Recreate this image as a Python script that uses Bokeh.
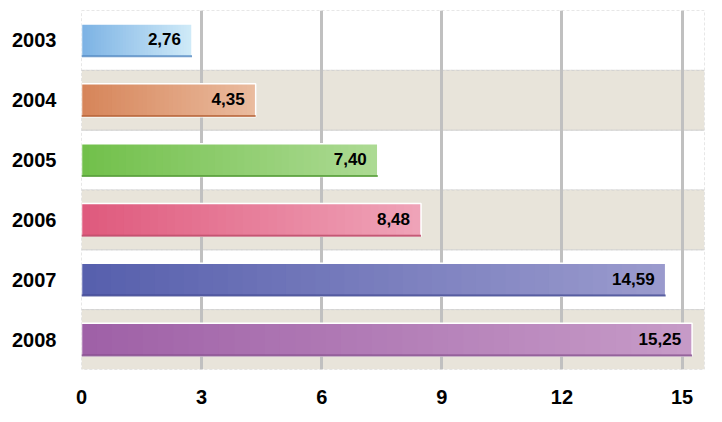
from bokeh.plotting import figure
from bokeh.models import FactorRange, FixedTicker, ColumnDataSource
from bokeh.transform import dodge
from bokeh.embed import file_html
from bokeh.resources import INLINE

# ---- data ----
years = ["2003", "2004", "2005", "2006", "2007", "2008"]
values = [2.76, 4.35, 7.40, 8.48, 14.59, 15.25]
value_labels = ["2,76", "4,35", "7,40", "8,48", "14,59", "15,25"]
x_ticks = [0, 3, 6, 9, 12, 15]

# ---- styles ----
left_colors = ["#7db3e4", "#d6855a", "#72c04b", "#df5a7d", "#5760ad", "#9f61a7"]
right_colors = ["#cfeaf8", "#eabb9e", "#acda93", "#efa3b8", "#9a9acd", "#c69ac7"]
edge_colors = ["#4f86c0", "#b8653a", "#4f9a30", "#b83c5c", "#3c4490", "#7d4386"]
band_color = "#e8e4da"

X_END = 15.56
N = 40


def hex2rgb(h):
    h = h.lstrip("#")
    return tuple(int(h[i:i + 2], 16) for i in (0, 2, 4))


def mix(c1, c2, t):
    a, b = hex2rgb(c1), hex2rgb(c2)
    return "#%02x%02x%02x" % tuple(int(round(a[k] + (b[k] - a[k]) * t)) for k in range(3))


p = figure(
    width=706, height=406,
    y_range=FactorRange(factors=years[::-1], range_padding=0),
    x_range=(0, X_END),
    output_backend="svg", toolbar_location=None,
    min_border_left=81, min_border_right=2, min_border_top=10, min_border_bottom=31,
)
p.background_fill_color = "white"
p.border_fill_color = "white"
p.outline_line_color = None

# alternating row bands
band_fill = [None if i % 2 == 0 else band_color for i in range(len(years))]
band_src = ColumnDataSource(dict(y=years, fill=band_fill))
p.hbar(y="y", left=0, right=X_END, height=1.0, source=band_src,
       fill_color="fill", line_color="#cfcfcf", line_width=1,
       line_dash="3 2", level="image")

# gradient bars built from overlapping slices of each value
sl_y, sl_l, sl_r, sl_c = [], [], [], []
for yr, v, c1, c2 in zip(years, values, left_colors, right_colors):
    for i in range(N):
        sl_y.append(yr)
        sl_l.append(v * i / N)
        sl_r.append(min(v, v * (i + 1.7) / N))
        sl_c.append(mix(c1, c2, i / (N - 1)))
p.hbar(y=sl_y, left=sl_l, right=sl_r, height=0.55, fill_color=sl_c,
       line_color=None)

src = ColumnDataSource(dict(y=years, v=values, lab=value_labels, edge=edge_colors))
# bar outline (white)
p.hbar(y="y", left=0, right="v", height=0.55, source=src, fill_color=None,
       line_color="white", line_width=1.5)
# darker bottom edge
p.segment(x0=0, x1="v", y0=dodge("y", -0.265, range=p.y_range),
          y1=dodge("y", -0.265, range=p.y_range), source=src,
          line_color="edge", line_width=2, line_alpha=0.8)

# value labels
p.text(x="v", y="y", text="lab", source=src, text_align="right",
       text_baseline="middle", x_offset=-11, y_offset=-1,
       text_font_size="17px", text_font_style="bold", text_color="black",
       text_font={"value": "Liberation Sans"})

# axes
p.xaxis.ticker = FixedTicker(ticks=x_ticks)
p.xgrid.ticker = FixedTicker(ticks=x_ticks)
p.xgrid.grid_line_color = "#c0c0c0"
p.xgrid.grid_line_width = 3
p.ygrid.grid_line_color = None

for ax in (p.xaxis, p.yaxis):
    ax.axis_line_color = None
    ax.major_tick_line_color = None
    ax.minor_tick_line_color = None
    ax.major_label_text_font = "Liberation Sans"
    ax.major_label_text_font_style = "bold"
    ax.major_label_text_font_size = "20px"
    ax.major_label_text_color = "black"
p.xaxis.major_label_standoff = 14
p.yaxis.major_label_standoff = 19

open("out.html", "w").write(file_html(p, INLINE))
